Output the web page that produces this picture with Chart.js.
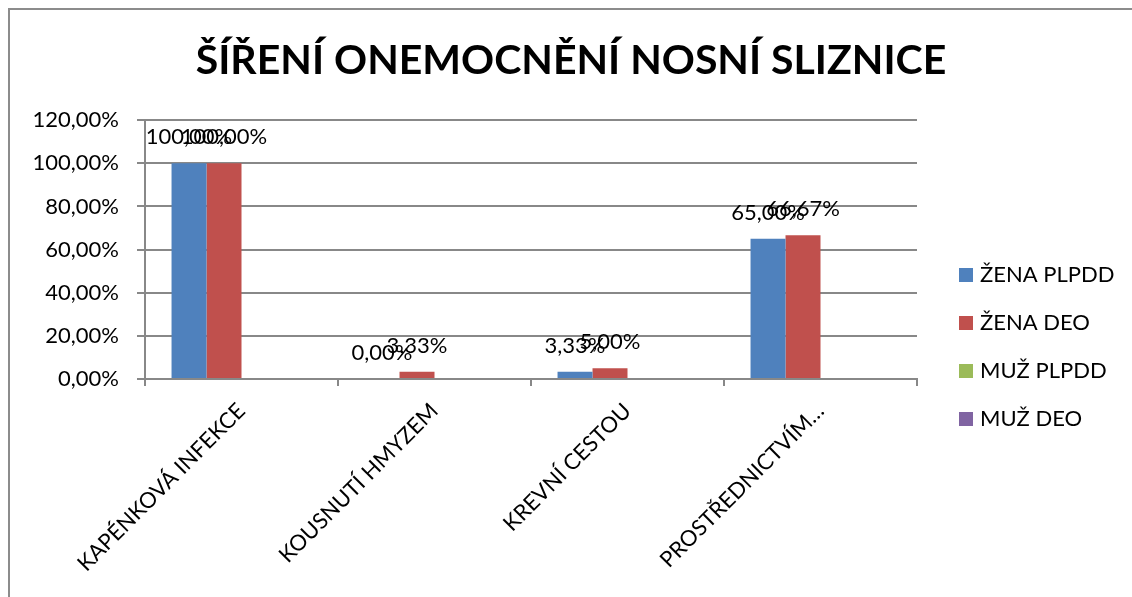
<!DOCTYPE html>
<html>
<head>
<meta charset="utf-8">
<script src="https://cdn.jsdelivr.net/npm/chart.js@4"></script>
<style>
  html, body { margin: 0; padding: 0; background: #fff; }
  #wrap { width: 1132px; height: 597px; }
</style>
</head>
<body>
<div id="wrap"><canvas id="chart" width="1132" height="597"></canvas></div>
<script>
const categories = ["KAPÉNKOVÁ INFEKCE", "KOUSNUTÍ HMYZEM", "KREVNÍ CESTOU", "PROSTŘEDNICTVÍM…"];
const zenaPlpdd = [100, 0, 3.33, 65];
const zenaDeo = [100, 3.33, 5, 66.67];
const muzPlpdd = [null, null, null, null];
const muzDeo = [null, null, null, null];
const seriesNames = ["ŽENA PLPDD", "ŽENA DEO", "MUŽ PLPDD", "MUŽ DEO"];
const seriesColors = ["#4F81BD", "#C0504D", "#9BBB59", "#8064A2"];
const yTicks = [0, 20, 40, 60, 80, 100, 120];

const FONT = "Lato";
const gridColor = "#888888";

function pct(v) {
  return v.toFixed(2).replace(".", ",") + "%";
}

// white background + the grey frame of the chart object
const framePlugin = {
  id: "frame",
  beforeDraw(chart) {
    const ctx = chart.ctx;
    ctx.save();
    ctx.fillStyle = "#fff";
    ctx.fillRect(0, 0, chart.width, chart.height);
    ctx.strokeStyle = "#8c8c8c";
    ctx.lineWidth = 2;
    ctx.beginPath();
    ctx.moveTo(9, chart.height);
    ctx.lineTo(9, 9);
    ctx.lineTo(chart.width, 9);
    ctx.stroke();
    ctx.restore();
  },
};

// value labels above the bars
const valueLabels = {
  id: "valueLabels",
  afterDatasetsDraw(chart) {
    const ctx = chart.ctx;
    ctx.save();
    ctx.font = "22px " + FONT;
    ctx.fillStyle = "#000";
    ctx.textAlign = "center";
    ctx.textBaseline = "middle";
    chart.data.datasets.forEach((ds, i) => {
      const meta = chart.getDatasetMeta(i);
      meta.data.forEach((bar, j) => {
        const v = ds.data[j];
        if (v === null || v === undefined) return;
        ctx.fillText(pct(v), bar.x, bar.y - 26);
      });
    });
    ctx.restore();
  },
};

// legend on the right, Excel style
const sideLegend = {
  id: "sideLegend",
  afterDraw(chart) {
    const ctx = chart.ctx;
    ctx.save();
    ctx.font = "22px " + FONT;
    ctx.textBaseline = "middle";
    ctx.textAlign = "left";
    chart.data.datasets.forEach((ds, i) => {
      const y = 275 + 48 * i;
      ctx.fillStyle = ds.backgroundColor;
      ctx.fillRect(959, y - 7, 14, 14);
      ctx.fillStyle = "#000";
      ctx.fillText(ds.label, 980, y);
    });
    ctx.restore();
  },
};

const datasets = [zenaPlpdd, zenaDeo, muzPlpdd, muzDeo].map((d, i) => ({
  label: seriesNames[i],
  data: d,
  backgroundColor: seriesColors[i],
  borderWidth: 0,
  categoryPercentage: 0.725,
  barPercentage: 1,
}));

new Chart(document.getElementById("chart"), {
  type: "bar",
  data: { labels: categories, datasets: datasets },
  plugins: [framePlugin, valueLabels, sideLegend],
  options: {
    responsive: false,
    animation: false,
    layout: { padding: { left: 10, right: 0, top: 0, bottom: 0 } },
    plugins: {
      legend: { display: false },
      tooltip: { enabled: false },
      title: {
        display: true,
        text: "ŠÍŘENÍ ONEMOCNĚNÍ NOSNÍ SLIZNICE",
        color: "#000",
        font: { family: FONT, size: 41, weight: "bold", lineHeight: 1.2 },
        padding: { top: 36, bottom: 35 },
      },
    },
    scales: {
      x: {
        offset: true,
        grid: {
          display: true,
          drawOnChartArea: false,
          offset: true,
          color: gridColor,
          lineWidth: 2,
          tickLength: 7,
        },
        border: { display: true, color: gridColor, width: 2 },
        ticks: {
          color: "#000",
          font: { family: FONT, size: 22 },
          minRotation: 45,
          maxRotation: 45,
          padding: 12,
        },
        afterFit(s) { s.height = 218; },
      },
      y: {
        min: 0,
        max: 120,
        afterBuildTicks(s) { s.ticks = yTicks.map(v => ({ value: v })); },
        grid: { color: gridColor, lineWidth: 2, tickLength: 8 },
        border: { display: true, color: gridColor, width: 2 },
        ticks: {
          color: "#000",
          font: { family: FONT, size: 22 },
          padding: 18,
          callback: v => pct(v),
        },
        afterFit(s) { s.width = 135; },
      },
      // empty right-hand axis that only reserves room for the legend
      legendSpace: {
        position: "right",
        grid: { display: false },
        border: { display: false },
        ticks: { display: false },
        afterFit(s) { s.width = 215; },
      },
    },
  },
});
</script>
</body>
</html>
